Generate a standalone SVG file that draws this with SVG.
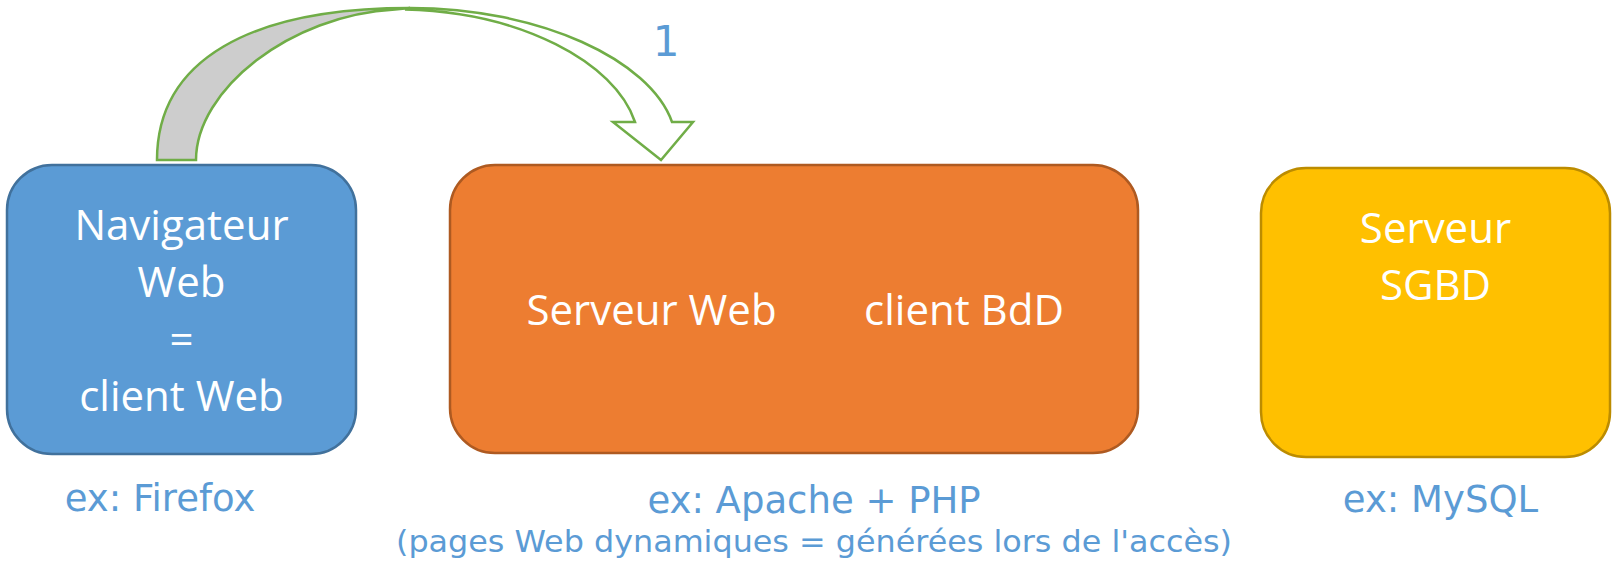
<svg xmlns="http://www.w3.org/2000/svg" width="1614" height="565" viewBox="0 0 1614 565">
<style>
.box{stroke-width:2.5}
.in{font-family:"Open Sans","Noto Sans",sans-serif;font-size:42px;fill:#ffffff;text-anchor:middle}
.ex{font-family:"DejaVu Sans",sans-serif;font-size:37px;fill:#5b9bd5;text-anchor:middle}
.ex2{font-family:"DejaVu Sans",sans-serif;font-size:31px;fill:#5b9bd5;text-anchor:middle}
.arr{stroke:#70ad47;stroke-width:2.5;stroke-linejoin:miter}
</style>
<rect width="1614" height="565" fill="#ffffff"/>
<g id="connectors">
  <path class="arr" fill="#cdcdcd" d="M157,160 C157,60 250,8 410,8 L395,9.5 C290,15 196,90 196,160 Z"/>
  <path class="arr" fill="#ffffff" d="M410,8 C540,8 650,60 672,122 L693,122 L661,160 L613,122 L635,122 C615,62 520,12 405,9.5 Z"/>
  <text x="666" y="56" font-family="DejaVu Sans, sans-serif" font-size="42" fill="#5b9bd5" text-anchor="middle">1</text>
</g>
<g id="node-browser">
  <rect class="box" x="7" y="165" width="349" height="289" rx="45" ry="45" fill="#5b9bd5" stroke="#41719c"/>
  <text class="in" x="181.5" y="240">Navigateur</text>
  <text class="in" x="181.5" y="297">Web</text>
  <text class="in" x="181.5" y="354">=</text>
  <text class="in" x="181.5" y="411">client Web</text>
  <text class="ex" x="160" y="511">ex: Firefox</text>
</g>
<g id="node-webserver">
  <rect class="box" x="450" y="165" width="688" height="288" rx="45" ry="45" fill="#ed7d31" stroke="#ae5a21"/>
  <text class="in" x="651.5" y="325">Serveur Web</text>
  <text class="in" x="964" y="325">client BdD</text>
  <text class="ex" x="814" y="513">ex: Apache + PHP</text>
  <text class="ex2" x="814" y="552" textLength="836" lengthAdjust="spacingAndGlyphs">(pages Web dynamiques = générées lors de l'accès)</text>
</g>
<g id="node-dbserver">
  <rect class="box" x="1261" y="168" width="349" height="289" rx="45" ry="45" fill="#ffc000" stroke="#bc8c00"/>
  <text class="in" x="1435.5" y="243">Serveur</text>
  <text class="in" x="1435.5" y="300">SGBD</text>
  <text class="ex" x="1440.5" y="512">ex: MySQL</text>
</g>
</svg>
